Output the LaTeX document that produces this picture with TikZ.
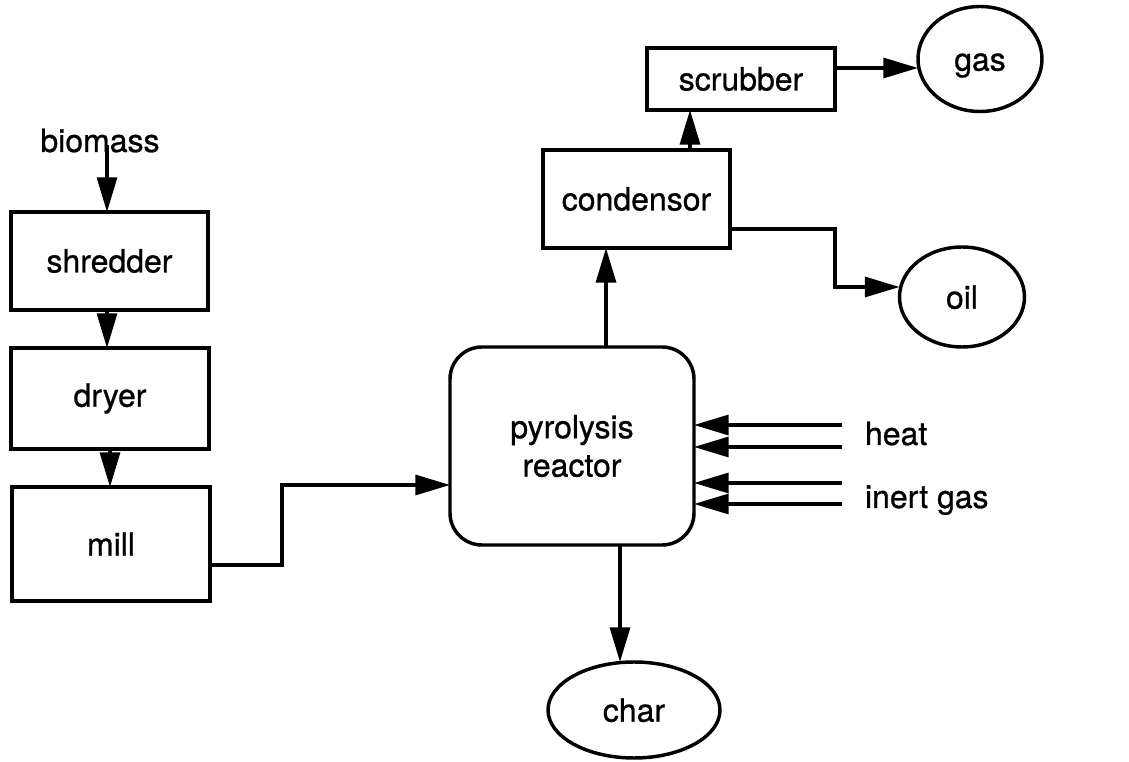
\documentclass[tikz,border=0pt]{standalone}
\usepackage{fontspec}
\setmainfont{TeX Gyre Heros}[FakeBold=0.8]
\usetikzlibrary{arrows.meta,shapes.geometric}
\def\px{*0.75pt}
\begin{document}
\begin{tikzpicture}[x=0.75pt,y=-0.75pt,
  every node/.style={font=\fontsize{24pt}{28.8pt}\selectfont, inner sep=0pt, outer sep=0pt},
  procbox/.style={draw, line width=2.6pt, rectangle},
  roundbox/.style={draw, line width=2.6pt, rectangle, rounded corners=24pt, align=center},
  product/.style={draw, line width=2.6pt, ellipse, text height=17.5pt, text depth=0pt},
  arr/.style={line width=2.4pt, -{Triangle[length=26pt,width=15pt]}}]
\useasboundingbox (0,0) rectangle (1129,762);

\node (biomass) [anchor=base] at (100,152) {biomass};
\node[procbox, minimum width=197\px, minimum height=98\px] (shredder) at (109.5,261) {shredder};
\node[procbox, minimum width=198\px, minimum height=101\px] (dryer) at (110,398.5) {dryer};
\node[procbox, minimum width=198\px, minimum height=114\px] (mill) at (111,544) {mill};
\node[roundbox, minimum width=244\px, minimum height=198\px] (reactor) at (572,446) {pyrolysis\\reactor};
\node[procbox, minimum width=187\px, minimum height=98\px] (condensor) at (636.5,199) {condensor};
\node[procbox, minimum width=188\px, minimum height=62\px] (scrubber) at (741,79) {scrubber};
\node[product, minimum width=124\px, minimum height=105\px] (gas) at (980,59) {gas};
\node[product, minimum width=125\px, minimum height=100\px] (oil) at (962,297) {oil};
\node[product, minimum width=172\px, minimum height=96\px] (char) at (634,710) {char};
\node (heat) [anchor=base west] at (865,445) {heat};
\node (inert) [anchor=base west] at (865,508) {inert gas};

% coordinates for connector paths
\coordinate (bx) at (107,145);
\coordinate (dx) at (110,0);
\coordinate (mx) at (282,565);
\coordinate (mx2) at (282,485);
\coordinate (rx) at (606,0);
\coordinate (cx) at (690,0);
\coordinate (sy) at (0,68);
\coordinate (ox) at (835,229);
\coordinate (oy) at (835,287);
\coordinate (chx) at (620,0);
\coordinate (h1) at (842,425);
\coordinate (h2) at (842,447);
\coordinate (g1) at (842,483);
\coordinate (g2) at (842,504);

\draw[arr] (bx) -- (bx |- shredder.north);
\draw[arr] (bx |- shredder.south) -- (bx |- dryer.north);
\draw[arr] (dx |- dryer.south) -- (dx |- mill.north);
\draw[arr] (mill.east |- mx) -- (mx) -- (mx2) -- (reactor.west |- mx2);
\draw[arr] (rx |- reactor.north) -- (rx |- condensor.south);
\draw[arr] (cx |- condensor.north) -- (cx |- scrubber.south);
\draw[arr] (scrubber.east |- sy) -- (gas.west |- sy);
\draw[arr] (condensor.east |- ox) -- (ox) -- (oy) -- (oil.west |- oy);
\draw[arr] (chx |- reactor.south) -- (chx |- char.north);
\draw[arr] (h1) -- (reactor.east |- h1);
\draw[arr] (h2) -- (reactor.east |- h2);
\draw[arr] (g1) -- (reactor.east |- g1);
\draw[arr] (g2) -- (reactor.east |- g2);
\end{tikzpicture}
\end{document}
